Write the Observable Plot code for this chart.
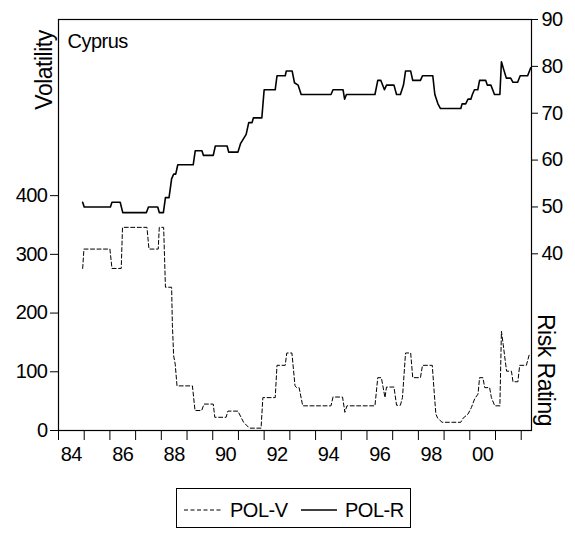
<!DOCTYPE html>
<html>
<head>
<meta charset="utf-8">
<script src="https://cdn.jsdelivr.net/npm/d3@7"></script>
<script src="https://cdn.jsdelivr.net/npm/@observablehq/plot@0.6"></script>
<style>
  html, body { margin: 0; padding: 0; background: #fff; }
  #wrap { position: relative; width: 575px; height: 534px; font-family: "Liberation Sans", Arial, sans-serif; }
  #legend { position: absolute; left: 0; top: 480px; }
</style>
</head>
<body>
<div id="wrap"><div id="chart"></div><div id="legend"></div></div>
<script>
// ---- data ----
const polR_t = [1984.94,1985.00,1986.02,1986.08,1986.40,1986.50,1987.42,1987.50,1987.86,1987.92,1988.08,1988.16,1988.30,1988.40,1988.48,1988.56,1988.64,1989.24,1989.32,1989.58,1989.64,1990.02,1990.10,1990.56,1990.62,1990.98,1991.08,1991.30,1991.40,1991.53,1991.58,1991.91,1992.00,1992.43,1992.50,1992.82,1992.86,1993.09,1993.18,1993.32,1993.44,1994.60,1994.68,1995.07,1995.13,1995.20,1996.31,1996.42,1996.54,1996.68,1996.76,1997.05,1997.15,1997.30,1997.42,1997.50,1997.70,1997.78,1998.08,1998.16,1998.56,1998.64,1998.76,1998.86,1999.65,1999.70,1999.84,1999.93,2000.04,2000.10,2000.18,2000.31,2000.38,2000.62,2000.68,2000.82,2000.96,2001.17,2001.23,2001.32,2001.42,2001.59,2001.68,2001.86,2001.96,2002.25,2002.37];
const polR_v = [51,50,50,51,51,48.8,48.8,50,50,48.8,48.8,52,52,56,57,57,59,59,62,62,61,61,63,63,61.7,61.7,63.5,65.5,68,68,69,69,75,75,78,78,79,79,76.5,76,74,74,75,75,73,74,74,77,77,75,76,76,74,74,76,79,79,77,77,78,78,74,72,71,71,72,72,73,73,74,75,75,77,77,76,76,74,74,81,79.3,77.5,77.5,76.6,76.6,78,78,79.7];

const polV_t = [1984.94,1984.99,1986.00,1986.08,1986.44,1986.49,1987.44,1987.52,1987.88,1987.92,1988.09,1988.16,1988.40,1988.43,1988.48,1988.54,1988.61,1989.21,1989.31,1989.57,1989.66,1990.02,1990.08,1990.52,1990.59,1990.98,1991.20,1991.39,1991.45,1991.88,1991.95,1992.43,1992.50,1992.82,1992.88,1993.08,1993.20,1993.27,1993.36,1993.50,1994.60,1994.68,1995.05,1995.14,1995.22,1996.31,1996.42,1996.56,1996.70,1996.76,1997.05,1997.15,1997.30,1997.38,1997.50,1997.70,1997.78,1998.08,1998.16,1998.54,1998.62,1998.68,1998.75,1998.92,1999.65,1999.74,1999.93,2000.06,2000.19,2000.32,2000.38,2000.51,2000.58,2000.77,2000.84,2000.97,2001.17,2001.23,2001.30,2001.43,2001.62,2001.68,2001.87,2001.94,2002.20,2002.33];
const polV_v = [276,309,309,276,276,346,346,309,309,346,346,244,244,180,127,113,76,76,34,34,45,45,22.5,22.5,33,33,14,5.6,4,4,56,56,111,111,132,132,76,73,73,42,42,57,57,31,42,42,90,90,56,74,74,43,43,56,132,132,90,90,111,111,62,28,21,14,14,21,28,39,54,62,90,90,73,73,56,42,42,169,146,101,101,83,83,111,111,132];

const leftTicks = [0, 100, 200, 300, 400];
const rightTicks = [40, 50, 60, 70, 80, 90];
const yearTicks = [1984,1985,1986,1987,1988,1989,1990,1991,1992,1993,1994,1995,1996,1997,1998,1999,2000,2001,2002];
const labelYears = [1984,1986,1988,1990,1992,1994,1996,1998,2000];
const xLabels = ["84","86","88","90","92","94","96","98","00"];
const seriesNames = ["POL-V", "POL-R"];
const leftTitle = "Volatility";
const rightTitle = "Risk Rating";
const panelTitle = "Cyprus";

// ---- scales ----
const leftMax = 700;
const rMin = 2.3, rMax = 90;
const toLeft = r => (r - rMin) / (rMax - rMin) * leftMax;

const rData = polR_t.map((t, i) => ({t, v: toLeft(polR_v[i])}));
const vData = polV_t.map((t, i) => ({t, v: polV_v[i]}));
const labelPos = labelYears.map(y => y + 0.5);
const labelMap = new Map(labelPos.map((p, i) => [p, xLabels[i]]));
const rightPos = rightTicks.map(toLeft);
const rightMap = new Map(rightPos.map((p, i) => [p, String(rightTicks[i])]));

const font = "Liberation Sans, Arial, sans-serif";

const chart = Plot.plot({
  width: 575,
  height: 480,
  marginLeft: 58,
  marginRight: 44,
  marginTop: 19,
  marginBottom: 50,
  style: {fontFamily: font, fontSize: "20px", color: "#000", background: "#fff", letterSpacing: "-0.5px"},
  x: {domain: [1984, 2002.4]},
  y: {domain: [0, leftMax]},
  marks: [
    Plot.line(vData, {x: "t", y: "v", stroke: "#000", strokeWidth: 1, strokeDasharray: "4,2.5"}),
    Plot.line(rData, {x: "t", y: "v", stroke: "#000", strokeWidth: 1.6}),
    Plot.frame({stroke: "#000", strokeWidth: 1.2}),
    Plot.axisY({ticks: leftTicks, tickSize: 8, tickPadding: 3, label: null, fontSize: 20}),
    Plot.axisY({anchor: "right", ticks: rightPos, tickFormat: d => rightMap.get(d), tickSize: 6, tickPadding: 4, label: null, fontSize: 20}),
    Plot.axisX({ticks: yearTicks, tickSize: 10, tickFormat: () => "", label: null}),
    Plot.axisX({ticks: labelPos, tickSize: 0, tickPadding: 16, tickFormat: d => labelMap.get(d), label: null, fontSize: 20}),
    Plot.text([panelTitle], {frameAnchor: "top-left", textAnchor: "start", lineAnchor: "top", dx: 9, dy: 14, fontSize: 20})
  ]
});
document.getElementById("chart").appendChild(chart);

// axis titles (rotated)
const svg = d3.select(chart);
svg.append("text").attr("transform", "translate(44,70) rotate(-90)")
  .attr("text-anchor", "middle").attr("dominant-baseline", "central")
  .attr("font-size", 23).attr("fill", "#000").text(leftTitle);
svg.append("text").attr("transform", "translate(546,370) rotate(90)")
  .attr("text-anchor", "middle").attr("dominant-baseline", "central")
  .attr("font-size", 23).attr("fill", "#000").text(rightTitle);

// ---- legend below the chart ----
const lg = d3.select("#legend").append("svg").attr("width", 575).attr("height", 54)
  .style("font-family", font).style("letter-spacing", "-0.5px");
lg.append("rect").attr("x", 176.5).attr("y", 8.5).attr("width", 234).attr("height", 39)
  .attr("fill", "none").attr("stroke", "#000").attr("stroke-width", 1);
lg.append("line").attr("x1", 184).attr("x2", 221).attr("y1", 30).attr("y2", 30)
  .attr("stroke", "#000").attr("stroke-width", 1).attr("stroke-dasharray", "4,2.5");
lg.append("text").attr("x", 230).attr("y", 37).attr("font-size", 20).text(seriesNames[0]);
lg.append("line").attr("x1", 301).attr("x2", 337).attr("y1", 30).attr("y2", 30)
  .attr("stroke", "#000").attr("stroke-width", 1.6);
lg.append("text").attr("x", 345).attr("y", 37).attr("font-size", 20).text(seriesNames[1]);
</script>
</body>
</html>
